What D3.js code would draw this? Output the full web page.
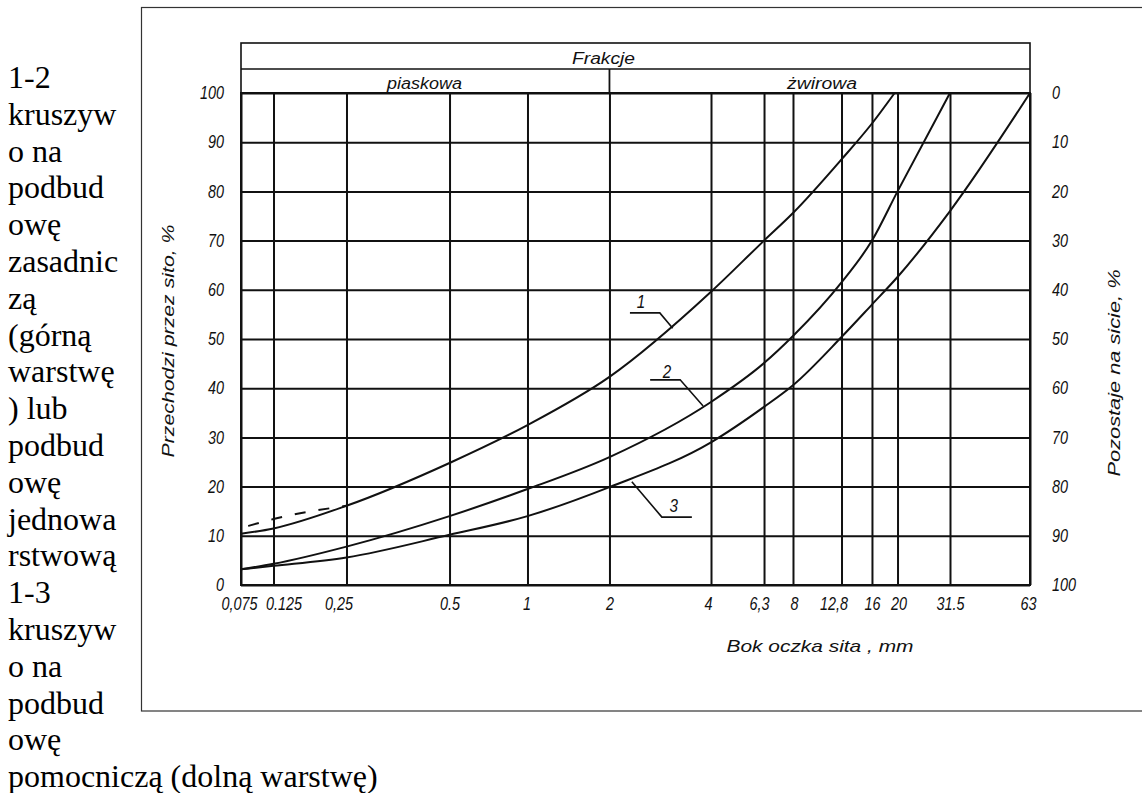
<!DOCTYPE html>
<html>
<head>
<meta charset="utf-8">
<script src="https://cdn.jsdelivr.net/npm/d3@7"></script>
<style>
  body { margin: 0; background: #fff; }
  .tech { font-family: "Liberation Sans", "DejaVu Sans", sans-serif; font-style: italic; fill: #111; }
  .grid line { stroke: #111; stroke-width: 2; }
  .grid path { display: none; }
  .curve { fill: none; stroke: #111; stroke-width: 2; }
</style>
</head>
<body>
<div id="app"></div>
<script>
// opis obok wykresu
const noteLines = ["1-2", "kruszyw", "o na", "podbud", "owę", "zasadnic", "zą", "(górną",
  "warstwę", ") lub", "podbud", "owę", "jednowa", "rstwową", "1-3", "kruszyw", "o na",
  "podbud", "owę", "pomocniczą (dolną warstwę)"];

// sita, mm
const sieves      = [0.075, 0.125, 0.25, 0.5, 1, 2, 4, 6.3, 8, 12.8, 16, 20, 31.5, 63];
const sieveLabels = ["0,075", "0.125", "0,25", "0.5", "1", "2", "4", "6,3", "8", "12,8", "16", "20", "31.5", "63"];
const passTicks   = [0, 10, 20, 30, 40, 50, 60, 70, 80, 90, 100];

// krzywe uziarnienia [sito, % przechodzi]
const curve1 = [[0.075, 10.4], [0.125, 11.5], [0.25, 16.1], [0.5, 24.8], [1, 32.5], [2, 42.3],
  [4, 59.6], [6.3, 70], [8, 75.6], [12.8, 86.5], [16, 93.8], [19.5, 100]];
const curve1Dash = [[0.084, 12], [0.125, 13.4], [0.25, 16.1]];
const curve2 = [[0.075, 3.2], [0.125, 4.3], [0.25, 7.8], [0.5, 14], [1, 19.5], [2, 26],
  [4, 37.2], [6.3, 45.1], [8, 50.6], [12.8, 61.5], [16, 70], [20, 80], [31.5, 100]];
const curve3 = [[0.075, 3.2], [0.125, 3.9], [0.25, 5.6], [0.5, 10.2], [1, 14], [2, 19.9],
  [4, 29], [6.3, 36.2], [8, 40.6], [12.8, 50.4], [16, 57], [20, 62.6], [31.5, 76], [63, 100]];

const curveNames = ["1", "2", "3"];
const calloutText = [[2.48, 56.3], [2.96, 42.1], [3.10, 14.8]];
const calloutLine = [
  [[2.30, 55.3], [2.82, 55.3], [3.08, 52.2]],
  [[2.64, 41.7], [3.24, 41.7], [3.79, 36.4]],
  [[3.51, 13.8], [2.86, 13.8], [2.33, 21]]
];

const headTitle = "Frakcje";
const fractionNames = ["piaskowa", "żwirowa"];
const xTitle = "Bok oczka sita , mm";
const yTitle = "Przechodzi przez sito, %";
const y2Title = "Pozostaje na sicie, %";

// układ
const margin = { left: 241, top: 93 },
      width  = 789,
      height = 492,
      sievePos = [0, 0.0412, 0.1337, 0.2643, 0.3631, 0.467, 0.5957, 0.6629, 0.6996,
                  0.7611, 0.7997, 0.8321, 0.8986, 1],
      labelShift = [-2, 10, -8, 0, -1, 0, -3, -5, 1, -8, 0, 1, 0, -2];

const svg = d3.select("#app").append("svg")
  .attr("width", 1142)
  .attr("height", 793);

/* tekst po lewej */
svg.append("g")
  .style("font-family", "'Liberation Serif', 'Times New Roman', serif")
  .style("font-size", "32px")
.selectAll("text")
  .data(noteLines)
  .join("text")
  .attr("x", 8)
  .attr("y", (d, i) => 88 + i * 36.8)
  .text(d => d);

/* ramka */
svg.append("rect")
  .attr("x", 141.5).attr("y", 7.5)
  .attr("width", 1030).attr("height", 703.5)
  .attr("fill", "none").attr("stroke", "#333").attr("stroke-width", 1.2);

const g = svg.append("g")
  .attr("transform", `translate(${margin.left},${margin.top})`);

const x = d3.scaleLog()
  .domain(sieves)
  .range(sievePos.map(f => f * width));
const y = d3.scaleLinear().domain([0, 100]).range([height, 0]);
const y2 = d3.scaleLinear().domain([100, 0]).range([height, 0]);

/* siatka */
g.append("g")
  .attr("class", "grid")
  .attr("transform", `translate(0,${height})`)
  .call(d3.axisBottom(x).tickValues(sieves).tickSize(-height).tickFormat(""));
g.append("g")
  .attr("class", "grid")
  .call(d3.axisLeft(y).tickValues(passTicks).tickSize(-width).tickFormat(""));

g.append("rect")
  .attr("width", width).attr("height", height)
  .attr("fill", "none").attr("stroke", "#111").attr("stroke-width", 2);

/* opisy osi */
const xAxis = g.append("g")
  .attr("transform", `translate(0,${height})`)
  .call(d3.axisBottom(x).tickValues(sieves).tickSize(0).tickPadding(12)
    .tickFormat((d, i) => sieveLabels[i]));
const yAxis = g.append("g")
  .call(d3.axisLeft(y).tickValues(passTicks).tickSize(0).tickPadding(17));
const y2Axis = g.append("g")
  .attr("transform", `translate(${width},0)`)
  .call(d3.axisRight(y2).tickValues(passTicks).tickSize(0).tickPadding(22));

[xAxis, yAxis, y2Axis].forEach(a => {
  a.select(".domain").remove();
  a.selectAll("text").attr("class", "tech").attr("fill", null).style("font-size", "18px");
});
xAxis.selectAll("text").attr("dx", (d, i) => labelShift[i]);

/* nagłówek frakcji */
const head = g.append("g").attr("class", "head");
head.append("rect")
  .attr("y", -50).attr("width", width).attr("height", 50)
  .attr("fill", "none").attr("stroke", "#111").attr("stroke-width", 1.6);
head.append("line")
  .attr("x1", 0).attr("x2", width).attr("y1", -24).attr("y2", -24)
  .attr("stroke", "#111").attr("stroke-width", 1.6);
head.append("line")
  .attr("x1", x(2)).attr("x2", x(2)).attr("y1", -24).attr("y2", 0)
  .attr("stroke", "#111").attr("stroke-width", 1.8);
head.append("text")
  .attr("class", "tech")
  .attr("x", 331).attr("y", -29)
  .attr("textLength", 63).attr("lengthAdjust", "spacingAndGlyphs")
  .style("font-size", "16px")
  .text(headTitle);
head.selectAll(".frac")
  .data(fractionNames)
  .join("text")
  .attr("class", "tech frac")
  .attr("x", (d, i) => [146, 546][i])
  .attr("y", -4)
  .attr("textLength", (d, i) => [75, 70][i]).attr("lengthAdjust", "spacingAndGlyphs")
  .style("font-size", "16px")
  .text(d => d);

/* krzywe */
const line = d3.line()
  .x(d => x(d[0]))
  .y(d => y(d[1]))
  .curve(d3.curveMonotoneX);

g.selectAll(".curve")
  .data([curve1, curve2, curve3])
  .join("path")
  .attr("class", "curve")
  .attr("d", line);

g.append("path")
  .datum(curve1Dash)
  .attr("class", "curve")
  .attr("stroke-dasharray", "11,13")
  .attr("d", line);

/* odnośniki 1, 2, 3 */
const plain = d3.line().x(d => x(d[0])).y(d => y(d[1]));
g.selectAll(".callout")
  .data(calloutLine)
  .join("path")
  .attr("class", "callout")
  .attr("fill", "none").attr("stroke", "#111").attr("stroke-width", 1.6)
  .attr("d", plain);
g.selectAll(".cname")
  .data(curveNames)
  .join("text")
  .attr("class", "tech cname")
  .attr("text-anchor", "middle")
  .attr("x", (d, i) => x(calloutText[i][0]))
  .attr("y", (d, i) => y(calloutText[i][1]))
  .style("font-size", "19px")
  .text(d => d);

/* tytuły osi */
g.append("text")
  .attr("class", "tech")
  .attr("text-anchor", "middle")
  .attr("x", 820 - margin.left).attr("y", 652 - margin.top)
  .attr("textLength", 187).attr("lengthAdjust", "spacingAndGlyphs")
  .style("font-size", "17px")
  .text(xTitle);
svg.append("text")
  .attr("class", "tech")
  .attr("text-anchor", "middle")
  .attr("transform", "translate(174,341) rotate(-90)")
  .attr("textLength", 233).attr("lengthAdjust", "spacingAndGlyphs")
  .style("font-size", "16px")
  .text(yTitle);
svg.append("text")
  .attr("class", "tech")
  .attr("text-anchor", "middle")
  .attr("transform", "translate(1120,373) rotate(-90)")
  .attr("textLength", 207).attr("lengthAdjust", "spacingAndGlyphs")
  .style("font-size", "16px")
  .text(y2Title);

/* węższe cyfry, jak w rysunku technicznym */
svg.selectAll("text.tech").filter(function() { return !this.hasAttribute("textLength"); })
  .each(function() {
    const w = this.getComputedTextLength();
    d3.select(this).attr("textLength", w * 0.8).attr("lengthAdjust", "spacingAndGlyphs");
  });
</script>
</body>
</html>
